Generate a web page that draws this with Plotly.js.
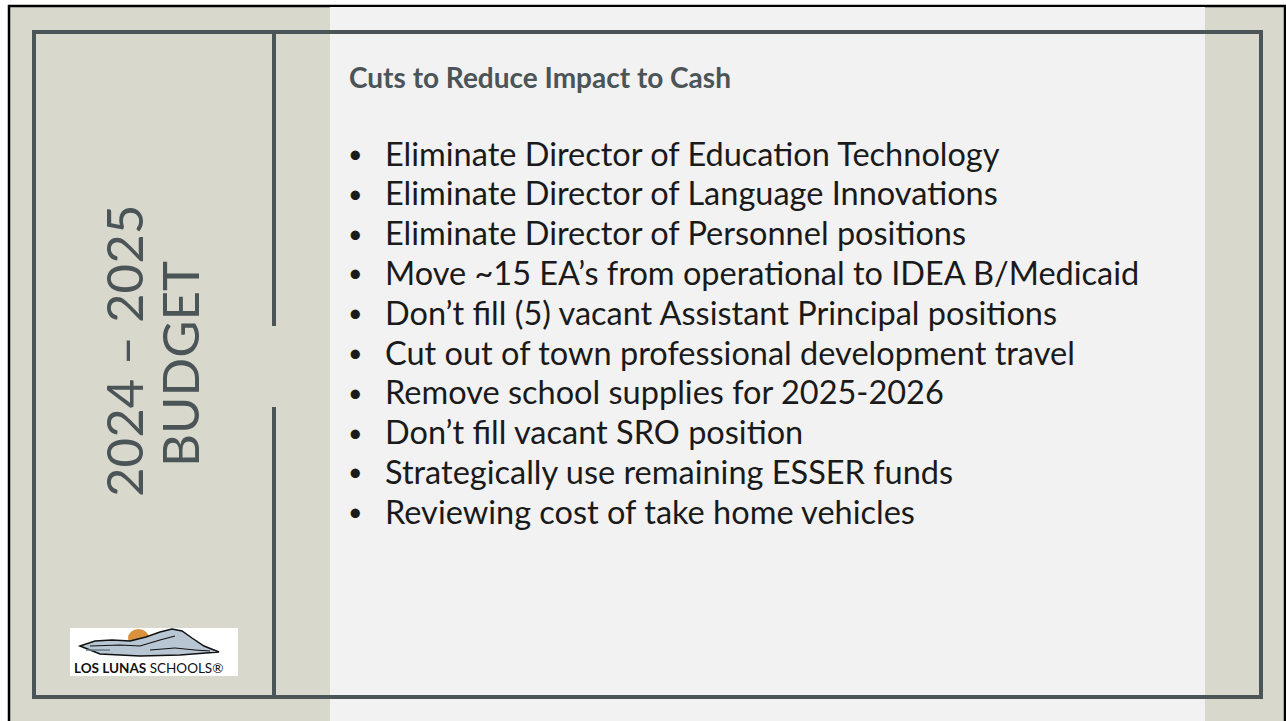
<!DOCTYPE html>
<html>
<head>
<meta charset="utf-8">
<script src="https://cdn.plot.ly/plotly-3.0.1.min.js"></script>
<style>html,body{margin:0;padding:0;background:#ffffff;}#chart{width:1286px;height:721px;}</style>
</head>
<body>
<div id="chart"></div>
<script>
// ---- content ----
const slideTitle = "Cuts to Reduce Impact to Cash";
const sideLine1 = "2024 – 2025";
const sideLine2 = "BUDGET";
const bullets = [
  "Eliminate Director of Education Technology",
  "Eliminate Director of Language Innovations",
  "Eliminate Director of Personnel positions",
  "Move ~15 EA’s from operational to IDEA B/Medicaid",
  "Don’t fill (5) vacant Assistant Principal positions",
  "Cut out of town professional development travel",
  "Remove school supplies for 2025-2026",
  "Don’t fill vacant SRO position",
  "Strategically use remaining ESSER funds",
  "Reviewing cost of take home vehicles"
];
const logoBold = "LOS LUNAS";
const logoRegular = "SCHOOLS®";

// ---- style ----
const band = "#d8d9cc";
const panel = "#f2f2f2";
const frame = "#4b5457";
const bodyFont = "Lato, 'Open Sans', sans-serif";

const shapes = [
  {type:"rect", x0:9, y0:6, x1:1285, y1:730, fillcolor:band, line:{color:"#000", width:2.5}, layer:"below"},
  {type:"rect", x0:330, y0:7, x1:1205, y1:730, fillcolor:panel, line:{width:0}, layer:"below"},
  {type:"rect", x0:34, y0:32, x1:1261, y1:697, line:{color:frame, width:4}},
  {type:"line", x0:274, y0:32, x1:274, y1:326, line:{color:frame, width:4}},
  {type:"line", x0:274, y0:407, x1:274, y1:697, line:{color:frame, width:4}},
  // logo box
  {type:"rect", x0:70, y0:628, x1:238, y1:676, fillcolor:"#ffffff", line:{width:0}},
  {type:"circle", x0:128, y0:629, x1:149, y1:647, fillcolor:"#d9923b", line:{width:0}},
  {type:"path", path:"M 80 646 L 95 641 L 112 640 L 130 641 L 146 637 L 160 632 L 172 629 L 182 631 L 192 638 L 204 646 L 219 652 L 180 655 L 140 656 L 100 654 Z",
   fillcolor:"#b7c6d2", line:{color:"#111", width:1.5}},
  {type:"path", path:"M 90 646 L 120 645 L 140 646 L 160 640 L 175 636", line:{color:"#111", width:1.2}},
  {type:"path", path:"M 150 650 L 175 648 L 195 650 L 210 651", line:{color:"#111", width:1}},
  {type:"path", path:"M 86 650 L 110 650", line:{color:"#6d7a86", width:1.5}}
];

const annotations = [];
annotations.push({x:347, y:77, xref:"x", yref:"y", text:"<b>"+slideTitle+"</b>", showarrow:false,
  xanchor:"left", yanchor:"middle", font:{family:bodyFont, size:28, color:frame}});
annotations.push({x:123, y:351, xref:"x", yref:"y", text:sideLine1, textangle:-90, showarrow:false,
  xanchor:"center", yanchor:"middle", font:{family:bodyFont, size:51, color:frame}});
annotations.push({x:179, y:364, xref:"x", yref:"y", text:sideLine2, textangle:-90, showarrow:false,
  xanchor:"center", yanchor:"middle", font:{family:bodyFont, size:51, color:frame}});
bullets.forEach((b, i) => {
  const yy = 153 + i * 39.8;
  annotations.push({x:346, y:yy, xref:"x", yref:"y", text:"•", showarrow:false,
    xanchor:"left", yanchor:"middle", font:{family:bodyFont, size:25, color:"#1a1a1a"}});
  annotations.push({x:383, y:yy, xref:"x", yref:"y", text:b, showarrow:false,
    xanchor:"left", yanchor:"middle", font:{family:bodyFont, size:32.5, color:"#1a1a1a"}});
});
annotations.push({x:72, y:668, xref:"x", yref:"y", text:"<b>"+logoBold+"</b> "+logoRegular, showarrow:false,
  xanchor:"left", yanchor:"middle", font:{family:bodyFont, size:13.5, color:"#111"}});

const layout = {
  width:1286, height:721,
  margin:{l:0, r:0, t:0, b:0},
  paper_bgcolor:"#ffffff", plot_bgcolor:"rgba(0,0,0,0)",
  xaxis:{range:[0,1286], visible:false, fixedrange:true},
  yaxis:{range:[721,0], visible:false, fixedrange:true},
  showlegend:false,
  shapes:shapes,
  annotations:annotations
};
Plotly.newPlot("chart", [], layout, {displayModeBar:false, staticPlot:true});
</script>
</body>
</html>
